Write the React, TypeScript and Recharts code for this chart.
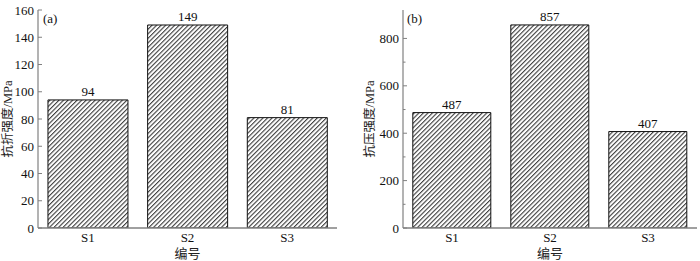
import React from "react";
import { BarChart, Bar, XAxis, YAxis, LabelList } from "recharts";

const categories = ["S1", "S2", "S3"];
const flexuralValues = [94, 149, 81];
const compressiveValues = [487, 857, 407];
const flexuralTicks = [0, 20, 40, 60, 80, 100, 120, 140, 160];
const compressiveTicks = [0, 100, 200, 300, 400, 500, 600, 700, 800];
const compressiveLabeled = [0, 200, 400, 600, 800];

const dataA = categories.map((name, i) => ({ name, value: flexuralValues[i] }));
const dataB = categories.map((name, i) => ({ name, value: compressiveValues[i] }));

const FONT = "Liberation Serif, DejaVu Serif, Noto Sans CJK SC, serif";
const AXIS = "#808080";
const fs = { fontFamily: FONT };

const makeTick = (labeled: number[] | null) => (props: any) => {
  const { x, y, payload } = props;
  const v = payload.value;
  const isMajor = labeled ? labeled.includes(v) : true;
  const ax = x + 4;
  return (
    <g>
      <line x1={ax} x2={ax + (isMajor ? 4 : 2.5)} y1={y} y2={y} stroke={AXIS} strokeWidth={1} />
      {isMajor && (
        <text x={x} y={y} dy="0.35em" textAnchor="end" fontSize={13} fill="#111" style={fs}>
          {v}
        </text>
      )}
    </g>
  );
};

function Hatch({ id }: { id: string }) {
  return (
    <defs>
      <pattern id={id} patternUnits="userSpaceOnUse" width={3.2} height={3.2} patternTransform="rotate(45)">
        <rect x={0} y={0} width={3.2} height={3.2} fill="#fff" />
        <line x1={0.6} y1={0} x2={0.6} y2={3.2} stroke="#111" strokeWidth={0.9} />
      </pattern>
    </defs>
  );
}

function Panel({ data, domain, ticks, labeled, yWidth, right, ylabel, ylabelX, tag, tagX, pid }: any) {
  return (
    <BarChart
      width={350}
      height={261}
      data={data}
      margin={{ top: 10, right, bottom: 0, left: 0 }}
      barCategoryGap="10%"
      style={fs}
    >
      <Hatch id={pid} />
      <XAxis
        dataKey="name"
        height={33}
        tickLine={false}
        tickSize={0}
        tickMargin={5}
        axisLine={{ stroke: AXIS, strokeWidth: 1.5 }}
        tick={{ fontSize: 13, fill: "#111", style: fs }}
        label={{ value: "编号", position: "insideBottom", offset: 3, fontSize: 13, fill: "#222", style: fs }}
      />
      <XAxis
        xAxisId="top"
        dataKey="name"
        orientation="top"
        height={0}
        tick={false}
        tickLine={false}
        axisLine={{ stroke: AXIS, strokeWidth: 1.2 }}
      />
      <YAxis
        type="number"
        domain={domain}
        ticks={ticks}
        width={yWidth}
        tickLine={false}
        tickSize={0}
        tickMargin={4}
        axisLine={{ stroke: AXIS, strokeWidth: 1.2 }}
        tick={makeTick(labeled)}
        interval={0}
        allowDataOverflow
      />
      <YAxis
        yAxisId="right"
        orientation="right"
        type="number"
        domain={domain}
        width={0}
        tick={false}
        tickLine={false}
        axisLine={{ stroke: AXIS, strokeWidth: 1.2 }}
      />
      <Bar dataKey="value" fill={`url(#${pid})`} stroke="#111" strokeWidth={1} isAnimationActive={false}>
        <LabelList dataKey="value" position="top" offset={4} fontSize={13} fill="#111" style={fs} />
      </Bar>
      <text
        x={ylabelX}
        y={119}
        transform={`rotate(-90 ${ylabelX} 119)`}
        textAnchor="middle"
        fontSize={12.5}
        fill="#222"
        style={fs}
      >
        {ylabel}
      </text>
      <text x={tagX} y={23} fontSize={13} fill="#111" style={fs}>
        {tag}
      </text>
    </BarChart>
  );
}

export default function App() {
  return (
    <div style={{ position: "absolute", left: 0, top: 0, width: 700, height: 261, background: "#fff", fontFamily: FONT }}>
      <div style={{ position: "absolute", left: 0, top: 0 }}>
        <Panel
          data={dataA}
          domain={[0, 160]}
          ticks={flexuralTicks}
          labeled={null}
          yWidth={38}
          right={13}
          ylabel="抗折强度/MPa"
          ylabelX={12}
          tag="(a)"
          tagX={43}
          pid="hatchA"
        />
      </div>
      <div style={{ position: "absolute", left: 350, top: 0 }}>
        <Panel
          data={dataB}
          domain={[0, 920]}
          ticks={compressiveTicks}
          labeled={compressiveLabeled}
          yWidth={53}
          right={3}
          ylabel="抗压强度/MPa"
          ylabelX={24}
          tag="(b)"
          tagX={57}
          pid="hatchB"
        />
      </div>
    </div>
  );
}
